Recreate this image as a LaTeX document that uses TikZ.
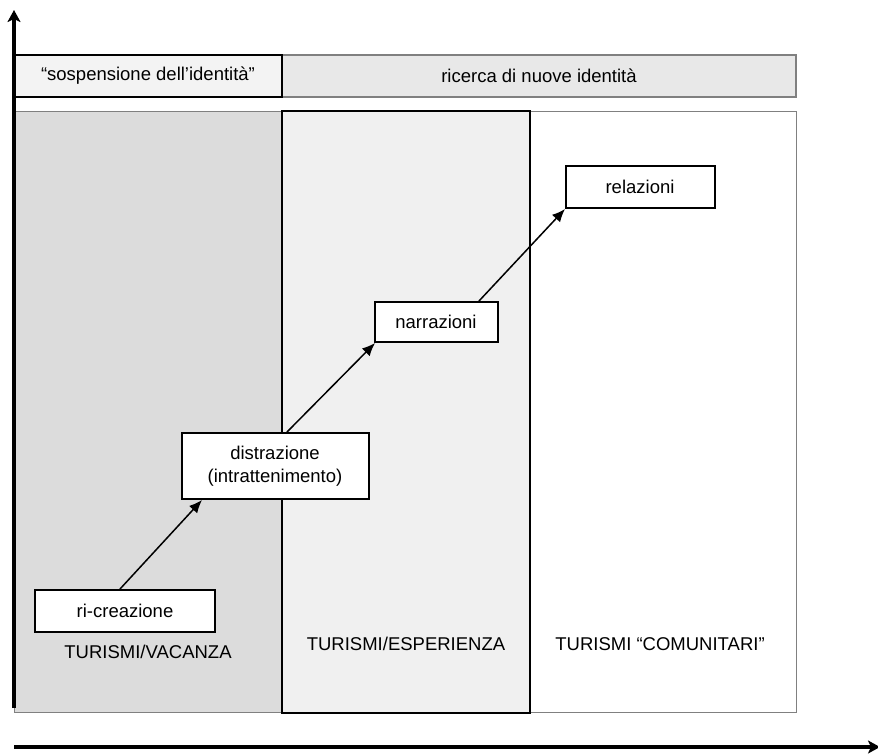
\documentclass[tikz,border=0pt]{standalone}
\usepackage{fontspec}
\setmainfont{Liberation Sans}
\usetikzlibrary{arrows.meta,positioning}
\definecolor{vacgray}{HTML}{DCDCDC}
\definecolor{espgray}{HTML}{F0F0F0}
\definecolor{sosgray}{HTML}{F3F3F3}
\definecolor{ricgray}{HTML}{E8E8E8}
\definecolor{edgegray}{HTML}{808080}
\tikzset{
	stagebox/.style={draw,line width=2pt,fill=white,minimum height=42pt,align=center,font=\fontsize{18.5}{23}\selectfont},
	zonelabel/.style={font=\fontsize{18.5}{22}\selectfont},
	link/.style={-{Latex[length=13pt,width=11pt]},line width=1.5pt},
	axis/.style={-{Stealth[length=12pt,width=13pt,inset=3pt]},line width=3.6pt}
}
\begin{document}
\begin{tikzpicture}[x=1pt,y=-1pt]
	\useasboundingbox (0,0) rectangle (878,753);

	% zones
	\draw [edgegray,line width=1pt,fill=vacgray] (14,111) rectangle (282,712);
	\draw [edgegray,line width=1pt,fill=white] (530,111) rectangle (796,712);
	\draw [line width=1.5pt,fill=espgray] (282,111) rectangle (530,713);

	% top bars
	\draw [edgegray,line width=1.2pt,fill=ricgray] (282,55) rectangle (796,97);
	\draw [line width=1.5pt,fill=sosgray] (14,55) rectangle (282,97);
	\node [zonelabel] (sosp) at (148,76) {“sospensione dell’identità”};
	\node [zonelabel] (ricerca) at (539,76) {ricerca di nuove identità};

	% axes
	\coordinate (origin) at (14,708);
	\coordinate (ytop) at (14,10);
	\coordinate (xstart) at (14,747);
	\coordinate (xend) at (880,747);
	\draw [axis] (origin) -- (ytop);
	\draw [axis] (xstart) -- (xend);

	% stages
	\node [stagebox,minimum width=180pt] (ricreazione) at (125,611) {ri-creazione};
	\node [stagebox,minimum width=187pt,minimum height=66pt] (distrazione) at (275,466) {distrazione\\(intrattenimento)};
	\node [stagebox,minimum width=123pt,minimum height=40pt] (narrazioni) at (436,322) {narrazioni};
	\node [stagebox,minimum width=149pt] (relazioni) at (640,187) {relazioni};

	\node [zonelabel] (vacanza) at (148,652) {TURISMI/VACANZA};
	\node [zonelabel] (esperienza) at (406,644) {TURISMI/ESPERIENZA};
	\node [zonelabel] (comunitari) at (660,644) {TURISMI “COMUNITARI”};

	\draw [link] ([xshift=-5pt]ricreazione.north) -- ([xshift=-73pt]distrazione.south);
	\draw [link] ([xshift=12pt]distrazione.north) -- ([xshift=-61pt]narrazioni.south);
	\draw [link] ([xshift=43pt]narrazioni.north) -- ([xshift=-75pt]relazioni.south);
\end{tikzpicture}
\end{document}
